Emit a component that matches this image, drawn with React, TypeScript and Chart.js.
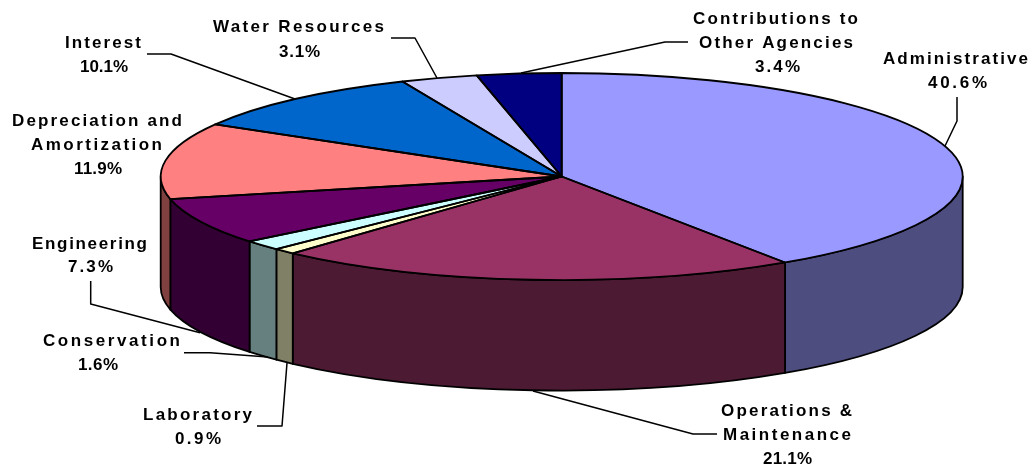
import React, { useEffect, useRef } from "react";
import { Chart, registerables } from "chart.js";

Chart.register(...registerables);

// ---- data -------------------------------------------------------------
const categories = [
  ["Administrative"],
  ["Operations &", "Maintenance"],
  ["Laboratory"],
  ["Conservation"],
  ["Engineering"],
  ["Depreciation and", "Amortization"],
  ["Interest"],
  ["Water Resources"],
  ["Contributions to", "Other Agencies"],
];
const values = [40.6, 21.1, 0.9, 1.6, 7.3, 11.9, 10.1, 3.1, 3.4];
const topColors = ["#9999FF", "#993366", "#FFFFCC", "#CCFFFF", "#660066", "#FF8080", "#0066CC", "#CCCCFF", "#000080"];
const sideColors = ["#4D4D80", "#4D1A33", "#808066", "#668080", "#330033", "#804040", "#003366", "#666680", "#000040"];

// ---- layout (not data) --------------------------------------------------
const PIE = { cx: 561.7, cy: 176.5, rx: 401, ry: 103.5, depth: 110.5 };
// one row per text line: [left, right, baseline]
const labelRows: number[][][] = [
  [[883, 1028, 64], [928, 987, 88]],
  [[721, 852, 416], [723, 851, 440], [763, 812, 464]],
  [[143, 252, 420], [175, 221, 444]],
  [[43, 180, 346], [78, 118, 370]],
  [[32, 147, 249], [68, 113, 272]],
  [[12, 182, 126], [31, 162, 150], [74, 122, 174]],
  [[65, 141, 48], [80, 128, 72]],
  [[213, 384, 32], [279, 320, 56.5]],
  [[693, 858, 24], [699, 853, 48], [755, 800, 72]],
];
const leaders: number[][][] = [
  [[957, 97], [957, 121], [945, 146]],
  [[533, 391], [693, 434], [717, 434]],
  [[257, 426], [282, 426], [287, 363]],
  [[184, 352.7], [210, 352.7], [268, 357]],
  [[90.7, 281], [90.7, 304], [200, 332.7]],
  [],
  [[147, 54], [171, 54], [295, 99]],
  [[391, 38], [415, 38], [437, 78]],
  [[521, 73], [665, 42], [688, 42]],
];

const pie3d = {
  id: "pie3d",
  beforeDatasetsDraw(chart: any) {
    const ctx = chart.ctx;
    const arcs = chart.getDatasetMeta(0).data;
    const { cx, cy, rx, ry, depth } = PIE;
    ctx.save();
    ctx.lineWidth = 1.8;
    ctx.strokeStyle = "#000";
    ctx.lineJoin = "round";
    arcs.forEach((arc: any, i: number) => {
      // Keep only the part of the slice on the front half of the rim
      for (const turn of [0, 2 * Math.PI]) {
        const a0 = Math.max(arc.startAngle - turn, 0);
        const a1 = Math.min(arc.endAngle - turn, Math.PI);
        if (a1 <= a0) continue;
        ctx.beginPath();
        ctx.ellipse(cx, cy, rx, ry, 0, a0, a1);
        ctx.ellipse(cx, cy + depth, rx, ry, 0, a1, a0, true);
        ctx.closePath();
        ctx.fillStyle = sideColors[i];
        ctx.fill();
        ctx.stroke();
      }
    });
    ctx.restore();
    const first = arcs[0];
    const R = first.outerRadius;
    ctx.save();
    ctx.translate(cx, cy);
    ctx.scale(rx / R, ry / R);
    ctx.translate(-first.x, -first.y);
  },
  afterDatasetsDraw(chart: any) {
    const ctx = chart.ctx;
    ctx.restore();
    const arcs = chart.getDatasetMeta(0).data;
    const { cx, cy, rx, ry } = PIE;
    ctx.save();
    ctx.strokeStyle = "#000";
    ctx.lineWidth = 1.8;
    ctx.lineJoin = "round";
    arcs.forEach((arc: any) => {
      ctx.beginPath();
      ctx.moveTo(cx, cy);
      ctx.ellipse(cx, cy, rx, ry, 0, arc.startAngle, arc.endAngle);
      ctx.closePath();
      ctx.stroke();
    });
    // leader lines
    ctx.lineWidth = 1.5;
    ctx.strokeStyle = "#000";
    leaders.forEach((pts) => {
      if (!pts.length) return;
      ctx.beginPath();
      pts.forEach((p, k) => (k ? ctx.lineTo(p[0], p[1]) : ctx.moveTo(p[0], p[1])));
      ctx.stroke();
    });
    // labels
    ctx.fillStyle = "#000";
    ctx.textAlign = "left";
    ctx.textBaseline = "alphabetic";
    ctx.font = 'bold 17px "Liberation Sans"';
    categories.forEach((lines, i) => {
      const texts = [...lines, values[i].toFixed(1) + "%"];
      texts.forEach((t, k) => {
        const [x0, x1, base] = labelRows[i][k];
        ctx.letterSpacing = "0px";
        const w = ctx.measureText(t).width;
        ctx.letterSpacing = ((x1 - x0 - w) / (t.length - 1)).toFixed(3) + "px";
        ctx.fillText(t, x0, base);
      });
    });
    ctx.letterSpacing = "0px";
    ctx.restore();
  },
};

export default function App() {
  const ref = useRef<HTMLCanvasElement>(null);
  useEffect(() => {
    document.body.style.margin = "0";
    document.body.style.background = "#fff";
    const chart = new Chart(ref.current as HTMLCanvasElement, {
      type: "pie",
      data: {
        labels: categories.map((c) => c.join(" ")),
        datasets: [{ data: values, backgroundColor: topColors, borderWidth: 0, clip: false } as any],
      },
      options: {
        animation: false,
        responsive: false,
        layout: { padding: 0 },
        plugins: { legend: { display: false }, tooltip: { enabled: false } },
      },
      plugins: [pie3d],
    } as any);
    return () => chart.destroy();
  }, []);
  return (
    <canvas
      ref={ref}
      width={1029}
      height={466}
      style={{ display: "block", position: "absolute", left: 0, top: 0, width: 1029, height: 466 }}
    />
  );
}
